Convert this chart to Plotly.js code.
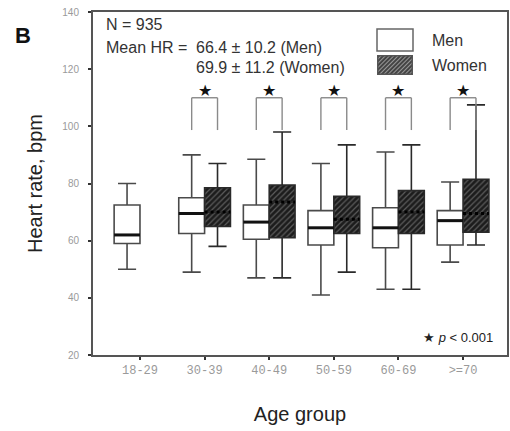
<!DOCTYPE html>
<html>
<head>
<meta charset="utf-8">
<script src="https://cdn.plot.ly/plotly-3.0.1.min.js"></script>
<style>html,body{margin:0;padding:0;background:#fff;}#chart{width:510px;height:431px;}</style>
</head>
<body>
<div id="chart"></div>
<script>
// ---- data ----
const categories = ['18-29', '30-39', '40-49', '50-59', '60-69', '>=70'];

const menLower  = [50, 49, 47, 41, 43, 52.5];
const menQ1     = [59, 62.5, 60.5, 58.5, 57.5, 58.5];
const menMedian = [62, 69.5, 66.5, 64.5, 64.5, 67];
const menQ3     = [72.5, 75, 72.5, 70.5, 71.5, 70.5];
const menUpper  = [80, 90, 88.5, 87, 91, 80.5];

const womenLower  = [null, 58, 47, 49, 43, 58.5];
const womenQ1     = [null, 65, 61, 62.5, 62.5, 63];
const womenMedian = [null, 70, 73.5, 67.5, 70, 69.5];
const womenQ3     = [null, 78.5, 79.5, 75.5, 77.5, 81.5];
const womenUpper  = [null, 87, 98, 93.5, 93.5, 107.5];

const significant = ['30-39', '40-49', '50-59', '60-69', '>=70'];
const bracketTop = 110;
const bracketLeg = 98.7;
const starLevel = 112.5;

// ---- helpers (layout positions) ----
const W = 510, H = 431;
const M = {l: 93, r: 3, t: 12, b: 76};
const PW = W - M.l - M.r, PH = H - M.t - M.b;
const px = v => (v - M.l) / PW;
const py = v => (H - M.b - v) / PH;

const wIdx = categories.map((c, i) => i).filter(i => womenQ1[i] !== null);
const wCats = wIdx.map(i => categories[i]);

const traces = [
  {
    type: 'bar',
    x: wCats,
    base: wIdx.map(i => womenQ1[i]),
    y: wIdx.map(i => womenQ3[i] - womenQ1[i]),
    width: wIdx.map(() => 0.4),
    offset: wIdx.map(() => 0),
    marker: {
      color: '#1c1c1c',
      line: {width: 0},
      pattern: {shape: '/', bgcolor: '#1c1c1c', fgcolor: '#5c5c5c', size: 4, solidity: 0.3}
    },
    showlegend: false,
    hoverinfo: 'skip'
  },
  {
    type: 'box',
    name: 'Men',
    x: categories,
    q1: menQ1, median: menMedian, q3: menQ3,
    lowerfence: menLower, upperfence: menUpper,
    boxpoints: false,
    offsetgroup: 'men', alignmentgroup: 'all',
    fillcolor: '#ffffff',
    line: {color: '#4a4a4a', width: 1.6},
    whiskerwidth: 0.7,
    showlegend: false
  },
  {
    type: 'box',
    name: 'Women',
    x: wCats,
    q1: wIdx.map(i => womenQ1[i]),
    median: wIdx.map(i => womenMedian[i]),
    q3: wIdx.map(i => womenQ3[i]),
    lowerfence: wIdx.map(i => womenLower[i]),
    upperfence: wIdx.map(i => womenUpper[i]),
    boxpoints: false,
    offsetgroup: 'women', alignmentgroup: 'all',
    fillcolor: 'rgba(0,0,0,0)',
    line: {color: '#2a2a2a', width: 1.6},
    whiskerwidth: 0.7,
    showlegend: false
  }
];

const shapes = [];
// thick men medians
categories.forEach((c, i) => {
  shapes.push({type: 'line', xref: 'x', yref: 'y', x0: i - 0.4, x1: i, y0: menMedian[i], y1: menMedian[i],
    line: {color: '#111', width: 3}});
});
// women medians (dotted black)
wIdx.forEach(i => {
  shapes.push({type: 'line', xref: 'x', yref: 'y', x0: i, x1: i + 0.4, y0: womenMedian[i], y1: womenMedian[i],
    line: {color: '#000', width: 3, dash: 'dot'}});
});
// brackets
significant.forEach(c => {
  const i = categories.indexOf(c);
  const ln = {color: '#8a8a8a', width: 1.4};
  shapes.push({type: 'line', xref: 'x', yref: 'y', x0: i - 0.2, x1: i - 0.2, y0: bracketLeg, y1: bracketTop, line: ln});
  shapes.push({type: 'line', xref: 'x', yref: 'y', x0: i - 0.2, x1: i + 0.2, y0: bracketTop, y1: bracketTop, line: ln});
  shapes.push({type: 'line', xref: 'x', yref: 'y', x0: i + 0.2, x1: i + 0.2, y0: bracketLeg, y1: bracketTop, line: ln});
});
// legend men rectangle
shapes.push({type: 'rect', xref: 'paper', yref: 'paper', x0: px(377), x1: px(413), y0: py(51), y1: py(29),
  fillcolor: '#fff', line: {color: '#666', width: 1.5}});

const annotations = [];
significant.forEach(c => {
  annotations.push({xref: 'x', yref: 'y', x: categories.indexOf(c), y: starLevel, text: '★', showarrow: false,
    font: {family: 'DejaVu Sans', size: 16, color: '#111'}, xanchor: 'center', yanchor: 'middle'});
});
const txt = (x, y, text, size, opts) => Object.assign({xref: 'paper', yref: 'paper', x: px(x), y: py(y), text: text,
  showarrow: false, xanchor: 'left', yanchor: 'middle', font: {family: 'Arial, Liberation Sans', size: size, color: '#333'}}, opts || {});
annotations.push(txt(13, 35, '<b>B</b>', 22, {font: {family: 'Arial, Liberation Sans', size: 22, color: '#111'}}));
annotations.push(txt(104, 25, 'N = 935', 16));
annotations.push(txt(104, 47, 'Mean HR =', 16));
annotations.push(txt(194, 47, '66.4 ± 10.2 (Men)', 16));
annotations.push(txt(194, 67, '69.9 ± 11.2 (Women)', 16));
annotations.push(txt(430, 41, 'Men', 16));
annotations.push(txt(430, 65, 'Women', 16));
annotations.push(txt(421, 337, '★ <i>p</i> < 0.001', 13, {font: {family: 'Arial, Liberation Sans', size: 13, color: '#222'}}));

const hatchSvg = '<svg xmlns="http://www.w3.org/2000/svg" width="36" height="20">' +
  '<defs><pattern id="h" width="3" height="3" patternUnits="userSpaceOnUse" patternTransform="rotate(45)">' +
  '<rect width="3" height="3" fill="#444"/><rect width="1" height="3" fill="#999"/></pattern></defs>' +
  '<rect x="0.75" y="0.75" width="34.5" height="18.5" fill="url(#h)" stroke="#555" stroke-width="1.5"/></svg>';

const layout = {
  width: W, height: H,
  margin: M,
  paper_bgcolor: '#fff', plot_bgcolor: '#fff',
  boxmode: 'group', boxgap: 0.2, boxgroupgap: 0,
  barmode: 'overlay',
  showlegend: false,
  font: {family: 'Arial, Liberation Sans', color: '#333'},
  xaxis: {
    type: 'category', categoryorder: 'array', categoryarray: categories,
    range: [-0.727, 5.68],
    showline: true, linecolor: '#555', linewidth: 2, mirror: true,
    ticks: 'outside', ticklen: 3, tickwidth: 2, tickcolor: '#333',
    tickfont: {family: 'Liberation Mono, DejaVu Sans Mono', size: 12, color: '#9a9a9a'},
    showgrid: false, zeroline: false, fixedrange: true,
    title: {text: 'Age group', font: {family: 'Arial, Liberation Sans', size: 20, color: '#222'}, standoff: 30}
  },
  yaxis: {
    range: [20, 140], dtick: 20, tick0: 20,
    showline: true, linecolor: '#555', linewidth: 2, mirror: true,
    ticks: 'outside', ticklen: 3, tickwidth: 2, tickcolor: '#333',
    ticklabelstandoff: 7,
    tickfont: {family: 'Arial, Liberation Sans', size: 10, color: '#9a9a9a'},
    showgrid: false, zeroline: false, fixedrange: true,
    title: {text: 'Heart rate, bpm', font: {family: 'Arial, Liberation Sans', size: 20, color: '#222'}, standoff: 14}
  },
  shapes: shapes,
  annotations: annotations,
  images: [{
    source: 'data:image/svg+xml;charset=utf-8,' + encodeURIComponent(hatchSvg),
    xref: 'paper', yref: 'paper', x: px(377), y: py(55), sizex: px(413) - px(377), sizey: py(55) - py(75),
    xanchor: 'left', yanchor: 'top', sizing: 'stretch', layer: 'above'
  }]
};

Plotly.newPlot('chart', traces, layout, {displayModeBar: false, staticPlot: true});
</script>
</body>
</html>
